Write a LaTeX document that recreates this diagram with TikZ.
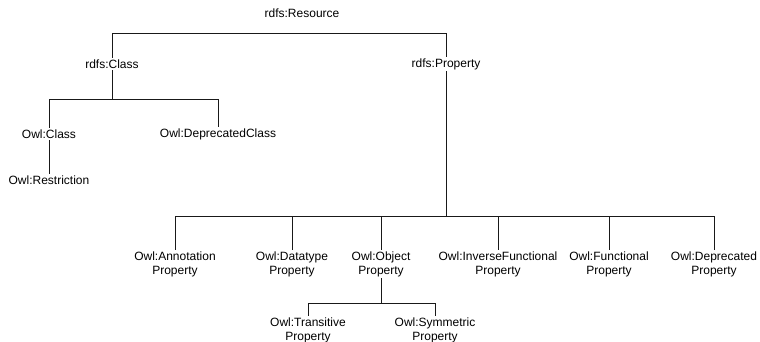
\documentclass[tikz,border=0pt]{standalone}
\usepackage{fontspec}
\setmainfont{Liberation Sans}
\begin{document}
\begin{tikzpicture}[x=1pt,y=-1pt,
  lbl/.style={inner sep=1.5pt, align=center, font=\fontsize{12}{14}\selectfont, text=black},
  link/.style={draw=black!90, line width=0.8pt}]
\useasboundingbox (0,0) rectangle (760,342);

% bus levels of the tree
\coordinate (busA) at (0,33);
\coordinate (busB) at (0,99);
\coordinate (busC) at (0,216);
\coordinate (busD) at (0,303);

% classes
\node[lbl] (res) at (302,13) {rdfs:Resource};
\node[lbl] (cls) at (112,64) {rdfs:Class};
\node[lbl] (prop) at (446,64) {rdfs:Property};
\node[lbl] (owlcls) at (49,134) {Owl:Class};
\node[lbl] (depcls) at (218,134) {Owl:DeprecatedClass};
\node[lbl] (restr) at (49,180) {Owl:Restriction};

% properties
\node[lbl] (ann) at (175,264) {Owl:Annotation\\Property};
\node[lbl] (dt) at (292,264) {Owl:Datatype\\Property};
\node[lbl] (obj) at (381,264) {Owl:Object\\Property};
\node[lbl] (inv) at (498,264) {Owl:InverseFunctional\\Property};
\node[lbl] (fun) at (609,264) {Owl:Functional\\Property};
\node[lbl] (dep) at (714,264) {Owl:Deprecated\\Property};
\node[lbl] (trans) at (308,330) {Owl:Transitive\\Property};
\node[lbl] (sym) at (435,330) {Owl:Symmetric\\Property};

% top level
\draw[link] (cls.north) -- (cls.north |- busA) -| (prop.north);

% rdfs:Class subtree
\foreach \c in {owlcls,depcls}
  \draw[link] (cls.south) |- (\c.north |- busB) -- (\c.north);
\draw[link] (owlcls.south) -- (restr.north);

% rdfs:Property subtree
\foreach \c in {ann,dt,obj,inv,fun,dep}
  \draw[link] (prop.south) |- (\c.north |- busC) -- (\c.north);

% Owl:ObjectProperty subtree
\foreach \c in {trans,sym}
  \draw[link] (obj.south) |- (\c.north |- busD) -- (\c.north);
\end{tikzpicture}
\end{document}
